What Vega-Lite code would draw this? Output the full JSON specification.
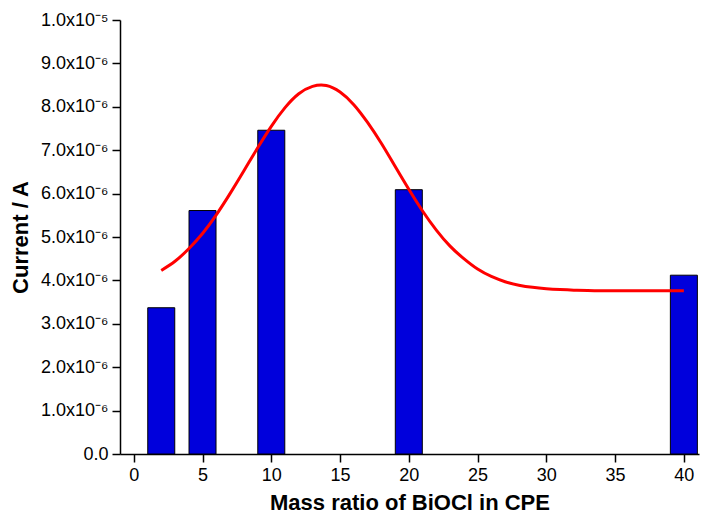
{
  "$schema": "https://vega.github.io/schema/vega-lite/v6.json",
  "width": 579,
  "height": 434,
  "autosize": "none",
  "padding": {"left": 120, "top": 20, "right": 2, "bottom": 65},
  "background": "white",
  "config": {"view": {"stroke": null}, "font": "Liberation Sans"},
  "layer": [
    {
      "data": {"values": [
        {"ratio": 2, "current": 3.37e-6},
        {"ratio": 5, "current": 5.61e-6},
        {"ratio": 10, "current": 7.46e-6},
        {"ratio": 20, "current": 6.09e-6},
        {"ratio": 40, "current": 4.12e-6}
      ]},
      "mark": {"type": "bar", "size": 27, "fill": "#0000dc", "stroke": "#000000", "strokeWidth": 1},
      "encoding": {
        "x": {
          "field": "ratio", "type": "quantitative",
          "scale": {"domain": [-1, 41.1], "nice": false, "zero": false, "padding": 0},
          "axis": {
            "title": "Mass ratio of BiOCl in CPE",
            "titleFontSize": 22, "titleFontWeight": "bold", "titleColor": "#000000", "titlePadding": 8,
            "values": [0, 2.5, 5, 7.5, 10, 12.5, 15, 17.5, 20, 22.5, 25, 27.5, 30, 32.5, 35, 37.5, 40],
            "labelExpr": "datum.value % 5 == 0 ? format(datum.value, 'd') : ''",
            "labelFontSize": 18, "labelColor": "#000000", "labelPadding": 4, "labelOverlap": false, "labelFlush": false, "labelBound": false,
            "tickSize": {"condition": {"test": "datum.value % 5 == 0", "value": 8}, "value": 4},
            "tickColor": "#000000", "tickWidth": 1.5,
            "domainColor": "#000000", "domainWidth": 1.5,
            "grid": false
          }
        },
        "y": {
          "field": "current", "type": "quantitative",
          "scale": {"domain": [0, 1e-5], "nice": false, "padding": 0},
          "axis": {
            "title": "Current / A",
            "titleFontSize": 22, "titleFontWeight": "bold", "titleColor": "#000000", "titlePadding": 8,
            "values": [0, 5e-7, 1e-6, 1.5e-6, 2e-6, 2.5e-6, 3e-6, 3.5e-6, 4e-6, 4.5e-6, 5e-6, 5.5e-6, 6e-6, 6.5e-6, 7e-6, 7.5e-6, 8e-6, 8.5e-6, 9e-6, 9.5e-6, 1e-5],
            "labelExpr": "abs(datum.value*1e6 - round(datum.value*1e6)) > 0.01 ? '' : (datum.value == 0 ? '0.0' : (datum.value > 9.9e-6 ? '1.0x10⁻⁵' : format(datum.value*1e6, '.1f') + 'x10⁻⁶'))",
            "labelFontSize": 18, "labelColor": "#000000", "labelPadding": 4, "labelOverlap": false, "labelFlush": false, "labelBound": false,
            "tickSize": {"condition": {"test": "abs(datum.value*1e6 - round(datum.value*1e6)) < 0.01", "value": 8}, "value": 4},
            "tickColor": "#000000", "tickWidth": 1.5,
            "domainColor": "#000000", "domainWidth": 1.5,
            "grid": false
          }
        }
      }
    },
    {
      "data": {"values": [
        {"ratio": 2, "current": 4.23e-6},
        {"ratio": 3, "current": 4.44e-6},
        {"ratio": 4, "current": 4.73e-6},
        {"ratio": 5, "current": 5.08e-6},
        {"ratio": 6, "current": 5.51e-6},
        {"ratio": 7, "current": 6.00e-6},
        {"ratio": 8, "current": 6.52e-6},
        {"ratio": 9, "current": 7.05e-6},
        {"ratio": 10, "current": 7.55e-6},
        {"ratio": 11, "current": 7.98e-6},
        {"ratio": 12, "current": 8.30e-6},
        {"ratio": 13, "current": 8.47e-6},
        {"ratio": 14, "current": 8.49e-6},
        {"ratio": 15, "current": 8.34e-6},
        {"ratio": 16, "current": 8.05e-6},
        {"ratio": 17, "current": 7.64e-6},
        {"ratio": 18, "current": 7.16e-6},
        {"ratio": 19, "current": 6.63e-6},
        {"ratio": 20, "current": 6.10e-6},
        {"ratio": 21, "current": 5.60e-6},
        {"ratio": 22, "current": 5.16e-6},
        {"ratio": 23, "current": 4.79e-6},
        {"ratio": 24, "current": 4.50e-6},
        {"ratio": 25, "current": 4.26e-6},
        {"ratio": 26, "current": 4.09e-6},
        {"ratio": 27, "current": 3.97e-6},
        {"ratio": 28, "current": 3.89e-6},
        {"ratio": 29, "current": 3.84e-6},
        {"ratio": 30, "current": 3.81e-6},
        {"ratio": 31, "current": 3.79e-6},
        {"ratio": 32, "current": 3.775e-6},
        {"ratio": 33, "current": 3.765e-6},
        {"ratio": 34, "current": 3.76e-6},
        {"ratio": 36, "current": 3.76e-6},
        {"ratio": 38, "current": 3.76e-6},
        {"ratio": 40, "current": 3.76e-6}
      ]},
      "mark": {"type": "line", "color": "#ff0000", "strokeWidth": 3, "interpolate": "natural"},
      "encoding": {
        "x": {"field": "ratio", "type": "quantitative"},
        "y": {"field": "current", "type": "quantitative"}
      }
    }
  ]
}
